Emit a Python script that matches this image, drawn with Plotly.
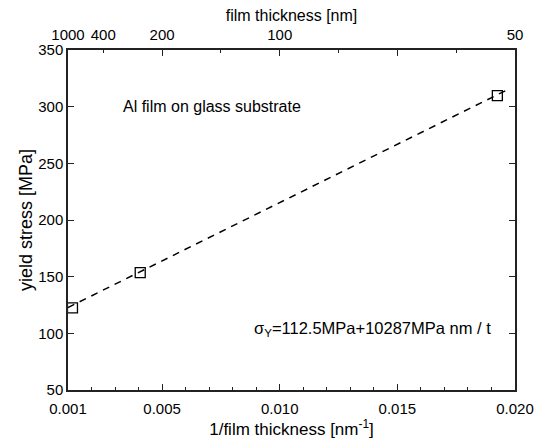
import plotly.graph_objects as go

# data
inv_thickness = [0.00119, 0.00407, 0.01925]   # 1/nm
yield_stress = [122.5, 153.5, 309.7]           # MPa
fit_x = [0.001, 0.0198]
fit_intercept = 112.5
fit_slope = 10287
fit_y = [fit_intercept + fit_slope * v for v in fit_x]

bottom_tickvals = [0.001, 0.005, 0.010, 0.015, 0.020]
bottom_ticktext = ["0.001", "0.005", "0.010", "0.015", "0.020"]
top_thickness_labels = [1000, 400, 200, 100, 50]
top_tickvals = [1.0 / t for t in top_thickness_labels]
top_ticktext = [str(t) for t in top_thickness_labels]
top_major_ticks = [0.005, 0.010, 0.015]
top_minor_ticks = [0.0025, 0.0075, 0.0125, 0.0175]

FONT = "Liberation Sans, Arial, sans-serif"
AX = "#222222"

fig = go.Figure()
fig.add_trace(go.Scatter(x=fit_x, y=fit_y, mode="lines",
                         line=dict(color="black", width=1.5, dash="7px,6px"),
                         showlegend=False, hoverinfo="skip"))
fig.add_trace(go.Scatter(x=inv_thickness, y=yield_stress, mode="markers",
                         marker=dict(symbol="square-open", size=10, color="black",
                                     line=dict(width=1.3, color="black")),
                         showlegend=False, cliponaxis=False))

xr = [0.001, 0.020]
fig.update_layout(
    width=546, height=443,
    margin=dict(l=68, r=22, t=50, b=53),
    paper_bgcolor="white", plot_bgcolor="white",
    font=dict(family=FONT, size=15, color="black"),
    xaxis=dict(range=xr, showline=True, linecolor=AX, linewidth=1.5, mirror=True,
               tickmode="array", tickvals=bottom_tickvals, ticktext=bottom_ticktext,
               ticks="inside", ticklen=6, tickwidth=1.2, tickcolor=AX,
               ticklabelstandoff=4,
               minor=dict(dtick=0.001, tick0=0.001, ticks="inside", ticklen=3,
                          tickwidth=1, tickcolor=AX, showgrid=False),
               showgrid=False, zeroline=False, tickfont=dict(size=15),
               title=dict(text="1/film thickness [nm<sup>-1</sup>]", font=dict(size=17),
                          standoff=0)),
    yaxis=dict(range=[50, 350], dtick=50, tick0=50, showline=True, linecolor=AX,
               linewidth=1.5, mirror="ticks", ticks="inside", ticklen=6, tickwidth=1.2,
               tickcolor=AX, showgrid=False, zeroline=False, tickfont=dict(size=15),
               title=dict(text="yield stress [MPa]", font=dict(size=18), standoff=1)),
    xaxis2=dict(range=xr, overlaying="x", side="top", tickmode="array",
                tickvals=top_tickvals, ticktext=top_ticktext, ticks="",
                ticklabelstandoff=6,
                showgrid=False, zeroline=False, showline=False, tickfont=dict(size=15),
                title=dict(text="film thickness [nm]", font=dict(size=16), standoff=0)),
    xaxis3=dict(range=xr, overlaying="x", side="top", tickmode="array",
                tickvals=top_major_ticks, showticklabels=False, ticks="inside",
                ticklen=6, tickwidth=1.2, tickcolor=AX,
                minor=dict(tickvals=top_minor_ticks, ticks="inside", ticklen=3,
                           tickwidth=1, tickcolor=AX, showgrid=False),
                showgrid=False, zeroline=False, showline=False),
)
# invisible traces to activate overlay axes
fig.add_trace(go.Scatter(x=[0.001], y=[50], xaxis="x2", mode="markers",
                         marker=dict(opacity=0), showlegend=False, hoverinfo="skip"))
fig.add_trace(go.Scatter(x=[0.001], y=[50], xaxis="x3", mode="markers",
                         marker=dict(opacity=0), showlegend=False, hoverinfo="skip"))

fig.add_annotation(x=0.00325, y=300, xref="x", yref="y", text="Al film on glass substrate",
                   showarrow=False, xanchor="left", font=dict(size=16))
fig.add_annotation(x=0.0088, y=104, xref="x", yref="y",
                   text="σ<sub>Y</sub>=112.5MPa+10287MPa nm / t",
                   showarrow=False, xanchor="left", font=dict(size=16.5))

fig.write_html("out.html")
